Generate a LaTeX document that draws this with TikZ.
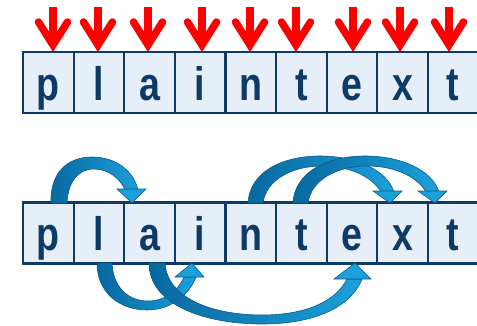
\documentclass[tikz,border=0pt]{standalone}
\usepackage{fontspec}
\usepackage{graphicx}
\setmainfont{Liberation Sans}
\definecolor{navy}{HTML}{0D3A66}
\definecolor{cellfill}{HTML}{E6EEF8}
\definecolor{ribdark}{HTML}{0868A0}
\definecolor{riblight}{HTML}{1BA0DA}
\definecolor{ribedge}{HTML}{0A5A88}
\newcommand{\ltr}[1]{\scalebox{0.8}[1]{\fontsize{47}{47}\selectfont\bfseries #1}}
\tikzset{
  cell/.style={draw=navy, line width=2.2pt, fill=cellfill, minimum width=50.6pt,
    minimum height=61pt, inner sep=0pt, text height=40pt, text depth=5pt,
    text=navy, anchor=center},
  pointer/.style={red, line width=7.5pt},
  ribbon/.style={left color=ribdark, right color=riblight, draw=ribedge, line width=0.6pt},
  ribhead/.style={fill=riblight, draw=ribedge, line width=0.6pt, line join=miter}
}
\begin{document}
\begin{tikzpicture}[x=1pt,y=-1pt]
\useasboundingbox (0,0) rectangle (477,325);

% upper row of letters
\foreach \c [count=\i] in {p,l,a,i,n,t,e,x,t} {
  \node[cell] (u\i) at ({23+25.3+50.6*(\i-1)},82.5) {\ltr{\c}};
}
% lower row of letters
\foreach \c [count=\i] in {p,l,a,i,n,t,e,x,t} {
  \node[cell] (d\i) at ({23+25.3+50.6*(\i-1)},233) {\ltr{\c}};
}

% red pointers above every upper cell
\foreach \x in {53,98,148,202,250,296,353,400,449} {
  \draw[pointer, line cap=butt] (\x,7) -- (\x,44);
  \draw[pointer, line cap=round, line join=miter] (\x-14.5,22) -- (\x,45) -- (\x+14.5,22);
}

% upper jumps: p -> a, n -> x, t -> t
\shadedraw[ribbon] (51,203) .. controls (50,172) and (68,157) .. (92,157)
  .. controls (117,157) and (134,172) .. (138,190) -- (125,190)
  .. controls (120,178) and (108,169) .. (94,169)
  .. controls (78,169) and (68,182) .. (67,203) -- cycle;
\filldraw[ribhead] (117,189) -- (132,203) -- (146,189) -- cycle;

\shadedraw[ribbon] (248,203) .. controls (250,170) and (285,156) .. (320,156)
  .. controls (356,156) and (387,170) .. (394,192) -- (381,192)
  .. controls (373,178) and (352,166) .. (322,166)
  .. controls (292,166) and (266,180) .. (263,203) -- cycle;
\filldraw[ribhead] (373,191) -- (390,203) -- (402,191) -- cycle;

\shadedraw[ribbon] (293,203) .. controls (295,170) and (330,156) .. (365,156)
  .. controls (401,156) and (432,170) .. (439,192) -- (426,192)
  .. controls (418,178) and (397,166) .. (367,166)
  .. controls (337,166) and (311,180) .. (308,203) -- cycle;
\filldraw[ribhead] (418,191) -- (435,203) -- (447,191) -- cycle;

% lower jumps: l -> i, a -> e
\shadedraw[ribbon] (97,263) .. controls (97,293) and (120,310) .. (147,310)
  .. controls (171,310) and (189,295) .. (196,277) -- (184,277)
  .. controls (178,291) and (165,301) .. (148,301)
  .. controls (128,301) and (113,287) .. (112,263) -- cycle;
\filldraw[ribhead] (175,277) -- (192,263) -- (204,277) -- cycle;

\shadedraw[ribbon] (149,263) .. controls (149,305) and (205,324) .. (262,324)
  .. controls (318,324) and (352,305) .. (362,279) -- (347,279)
  .. controls (337,299) and (310,315) .. (262,315)
  .. controls (212,315) and (167,298) .. (165,263) -- cycle;
\filldraw[ribhead] (334,279) -- (355,263) -- (371,279) -- cycle;
\end{tikzpicture}
\end{document}
